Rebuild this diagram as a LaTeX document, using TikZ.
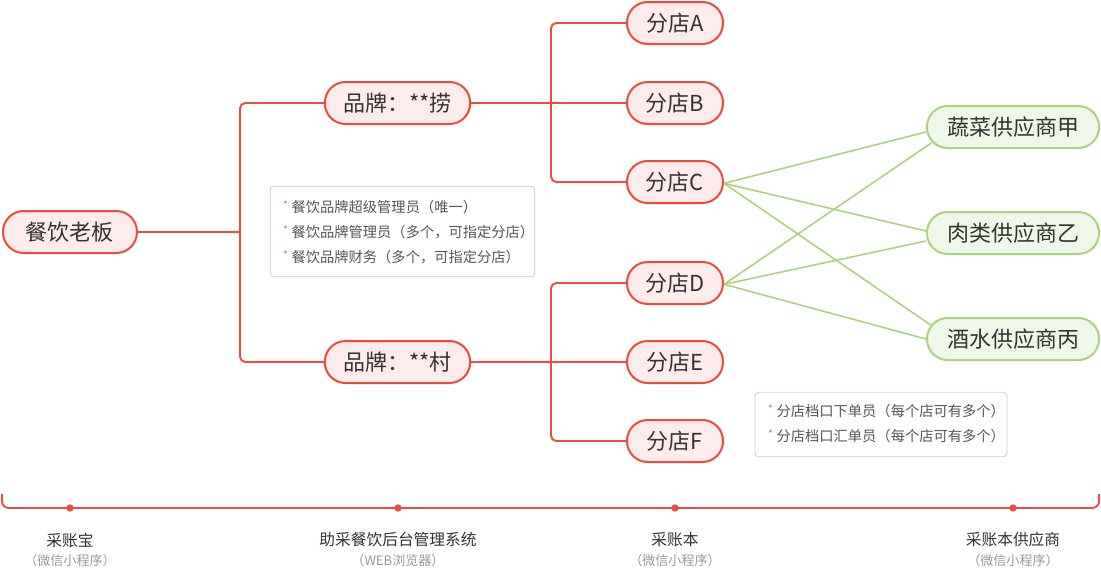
\documentclass[tikz,border=0pt]{standalone}
\usepackage{fontspec}
\setmainfont{Noto Sans CJK SC}
\definecolor{rd}{HTML}{F04A3E}
\definecolor{rdfill}{HTML}{FDECEB}
\definecolor{gn}{HTML}{A8D47E}
\definecolor{gnfill}{HTML}{EFF7E8}
\definecolor{txt}{HTML}{333333}
\definecolor{notetxt}{HTML}{555555}
\definecolor{subtxt}{HTML}{999999}
\definecolor{boxgray}{HTML}{CCCCCC}
\tikzset{
  pill/.style={draw=rd, fill=rdfill, line width=1.5pt, rounded corners=15.5pt,
    minimum height=31.5pt, inner sep=0pt, text=txt, font=\fontsize{16.5pt}{19pt}\selectfont},
  gpill/.style={pill, draw=gn, fill=gnfill},
  redline/.style={draw=rd, line width=1.4pt, rounded corners=4pt},
  greenline/.style={draw=gn, line width=1.2pt},
  notebox/.style={draw=boxgray, line width=0.6pt, rounded corners=3pt, inner sep=0pt},
  notetext/.style={anchor=west, text=notetxt, inner sep=0pt, font=\fontsize{10.7pt}{12pt}\selectfont},
  dot/.style={circle, fill=rd, inner sep=0pt, minimum size=5.5pt},
  botlabel/.style={text=txt, inner sep=0pt, font=\fontsize{11.8pt}{14pt}\selectfont},
  sublabel/.style={text=subtxt, inner sep=0pt, font=\fontsize{9.8pt}{12pt}\selectfont},
}
\newcommand{\redstar}{\raisebox{0.25em}{\textcolor{rd}{\fontsize{7pt}{8pt}\selectfont *}}\hspace{3pt}}
\begin{document}
\begin{tikzpicture}[x=0.75pt, y=-0.75pt]
\path[use as bounding box] (0,0) rectangle (1101,569);
% main nodes
\node[pill, minimum width=100.5pt] (boss) at (70,232) {餐饮老板};
\node[pill, minimum width=109pt] (b1) at (397.5,103) {品牌：**捞};
\node[pill, minimum width=109pt] (b2) at (397.5,362) {品牌：**村};
\node[pill, minimum width=72pt] (A) at (675,23) {分店A};
\node[pill, minimum width=72pt] (B) at (675,103) {分店B};
\node[pill, minimum width=72pt] (C) at (675,182) {分店C};
\node[pill, minimum width=72pt] (D) at (675,283) {分店D};
\node[pill, minimum width=72pt] (E) at (675,362) {分店E};
\node[pill, minimum width=72pt] (F) at (675,441) {分店F};
\node[gpill, minimum width=129pt] (S1) at (1013,127) {蔬菜供应商甲};
\node[gpill, minimum width=129pt] (S2) at (1013,233) {肉类供应商乙};
\node[gpill, minimum width=129pt] (S3) at (1013,339) {酒水供应商丙};
% junctions
\coordinate (j1) at (240,232);
\coordinate (j2) at (551,103);
\coordinate (j3) at (551,362);
% red connectors
\draw[redline] (boss.east) -- (j1);
\draw[redline] (b1.west) -| (j1) |- (b2.west);
\draw[redline] (b1.east) -- (B.west);
\draw[redline] (A.west) -| (j2) |- (C.west);
\draw[redline] (b2.east) -- (E.west);
\draw[redline] (D.west) -| (j3) |- (F.west);
% green connectors
\draw[greenline] ([yshift=-1pt]C.east) -- ([yshift=-3.75pt]S1.west);
\draw[greenline] ([yshift=-1pt]C.east) -- ([yshift=1.5pt]S2.west);
\draw[greenline] ([yshift=-1pt]C.east) -- ([xshift=3.5pt,yshift=10.5pt]S3.west);
\draw[greenline] ([yshift=-1pt]D.east) -- ([xshift=4pt,yshift=-12pt]S1.west);
\draw[greenline] ([yshift=-1pt]D.east) -- ([yshift=-6pt]S2.west);
\draw[greenline] ([yshift=-1pt]D.east) -- (S3.west);
% note boxes
\node[notebox, minimum width=198.5pt, minimum height=68pt] (n1) at (402.5,231.5) {};
\node[notetext] (n1a) at (283,207) {\redstar 餐饮品牌超级管理员（唯一）};
\node[notetext] (n1b) at (283,232) {\redstar 餐饮品牌管理员（多个，可指定分店）};
\node[notetext] (n1c) at (283,257) {\redstar 餐饮品牌财务（多个，可指定分店）};
\node[notebox, minimum width=189pt, minimum height=48.5pt] (n2) at (881,424.5) {};
\node[notetext] (n2a) at (768,411) {\redstar 分店档口下单员（每个店可有多个）};
\node[notetext] (n2b) at (768,436) {\redstar 分店档口汇单员（每个店可有多个）};
% bottom bracket
\coordinate (bl) at (2,494);
\coordinate (br) at (1099,494);
\draw[redline, rounded corners=5pt] (bl) |- (br |- 0,508) -- (br);
\node[dot] (d1) at (70,508) {};
\node[dot] (d2) at (398,508) {};
\node[dot] (d3) at (675,508) {};
\node[dot] (d4) at (1013,508) {};
\node[botlabel] (l1) at (70,540) {采账宝};
\node[sublabel] (s1) at (70,561) {（微信小程序）};
\node[botlabel] (l2) at (398,540) {助采餐饮后台管理系统};
\node[sublabel] (s2) at (398,561) {（WEB浏览器）};
\node[botlabel] (l3) at (675,540) {采账本};
\node[sublabel] (s3) at (675,561) {（微信小程序）};
\node[botlabel] (l4) at (1013,540) {采账本供应商};
\node[sublabel] (s4) at (1013,561) {（微信小程序）};
\end{tikzpicture}
\end{document}
